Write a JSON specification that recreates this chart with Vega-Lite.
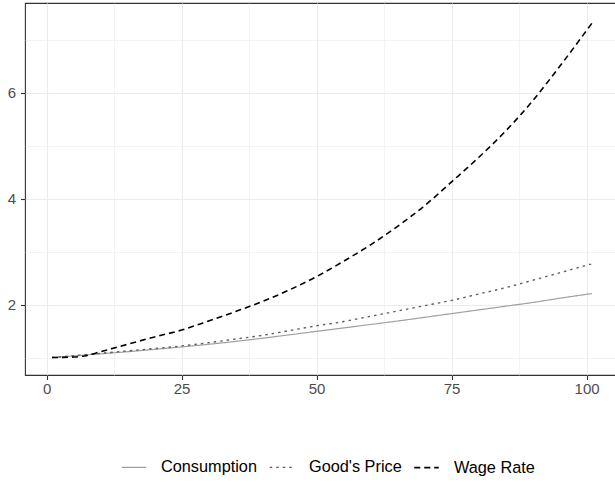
{
  "$schema": "https://vega.github.io/schema/vega-lite/v6.json",
  "width": 594,
  "height": 372,
  "autosize": {"type": "none"},
  "padding": {"left": 25, "top": 3, "right": 0, "bottom": 107},
  "background": "white",
  "config": {
    "font": "Liberation Sans",
    "view": {"stroke": "#333333", "strokeWidth": 1.1}
  },
  "datasets": {
    "main": [
      {"t": 1, "series": "Consumption", "v": 1.0},
      {"t": 5, "series": "Consumption", "v": 1.03},
      {"t": 10, "series": "Consumption", "v": 1.07},
      {"t": 15, "series": "Consumption", "v": 1.11},
      {"t": 20, "series": "Consumption", "v": 1.155},
      {"t": 25, "series": "Consumption", "v": 1.2},
      {"t": 30, "series": "Consumption", "v": 1.25},
      {"t": 35, "series": "Consumption", "v": 1.305},
      {"t": 40, "series": "Consumption", "v": 1.365},
      {"t": 45, "series": "Consumption", "v": 1.43},
      {"t": 50, "series": "Consumption", "v": 1.495},
      {"t": 55, "series": "Consumption", "v": 1.56},
      {"t": 60, "series": "Consumption", "v": 1.625},
      {"t": 65, "series": "Consumption", "v": 1.69},
      {"t": 70, "series": "Consumption", "v": 1.76},
      {"t": 75, "series": "Consumption", "v": 1.83},
      {"t": 80, "series": "Consumption", "v": 1.9},
      {"t": 85, "series": "Consumption", "v": 1.97},
      {"t": 90, "series": "Consumption", "v": 2.04},
      {"t": 95, "series": "Consumption", "v": 2.12},
      {"t": 101, "series": "Consumption", "v": 2.21},
      {"t": 1, "series": "Good's Price", "v": 1.0},
      {"t": 5, "series": "Good's Price", "v": 1.035},
      {"t": 10, "series": "Good's Price", "v": 1.08},
      {"t": 15, "series": "Good's Price", "v": 1.125},
      {"t": 20, "series": "Good's Price", "v": 1.17},
      {"t": 25, "series": "Good's Price", "v": 1.22},
      {"t": 30, "series": "Good's Price", "v": 1.28},
      {"t": 35, "series": "Good's Price", "v": 1.35},
      {"t": 40, "series": "Good's Price", "v": 1.42},
      {"t": 45, "series": "Good's Price", "v": 1.51},
      {"t": 50, "series": "Good's Price", "v": 1.6},
      {"t": 55, "series": "Good's Price", "v": 1.68},
      {"t": 60, "series": "Good's Price", "v": 1.78},
      {"t": 65, "series": "Good's Price", "v": 1.88},
      {"t": 70, "series": "Good's Price", "v": 1.98},
      {"t": 75, "series": "Good's Price", "v": 2.08},
      {"t": 80, "series": "Good's Price", "v": 2.2},
      {"t": 85, "series": "Good's Price", "v": 2.32},
      {"t": 90, "series": "Good's Price", "v": 2.46},
      {"t": 95, "series": "Good's Price", "v": 2.6},
      {"t": 101, "series": "Good's Price", "v": 2.775},
      {"t": 1, "series": "Wage Rate", "v": 1.0},
      {"t": 5, "series": "Wage Rate", "v": 1.01},
      {"t": 7, "series": "Wage Rate", "v": 1.03},
      {"t": 10, "series": "Wage Rate", "v": 1.11},
      {"t": 15, "series": "Wage Rate", "v": 1.25},
      {"t": 20, "series": "Wage Rate", "v": 1.39},
      {"t": 25, "series": "Wage Rate", "v": 1.52},
      {"t": 30, "series": "Wage Rate", "v": 1.69},
      {"t": 35, "series": "Wage Rate", "v": 1.87},
      {"t": 40, "series": "Wage Rate", "v": 2.06},
      {"t": 45, "series": "Wage Rate", "v": 2.28},
      {"t": 50, "series": "Wage Rate", "v": 2.53},
      {"t": 55, "series": "Wage Rate", "v": 2.82},
      {"t": 60, "series": "Wage Rate", "v": 3.13},
      {"t": 65, "series": "Wage Rate", "v": 3.48},
      {"t": 70, "series": "Wage Rate", "v": 3.87},
      {"t": 75, "series": "Wage Rate", "v": 4.32},
      {"t": 80, "series": "Wage Rate", "v": 4.78},
      {"t": 85, "series": "Wage Rate", "v": 5.28},
      {"t": 90, "series": "Wage Rate", "v": 5.85},
      {"t": 95, "series": "Wage Rate", "v": 6.5},
      {"t": 101, "series": "Wage Rate", "v": 7.32}
    ]
  },
  "data": {"name": "main"},
  "layer": [
    {
      "mark": {"type": "line", "opacity": 0},
      "encoding": {
        "x": {
          "field": "t", "type": "quantitative",
          "scale": {"domain": [-4, 106], "nice": false, "zero": false},
          "axis": {"orient": "top", "values": [12.5, 37.5, 62.5, 87.5], "grid": true, "gridColor": "#EBEBEB", "gridWidth": 0.6, "labels": false, "ticks": false, "domain": false, "title": null}
        },
        "y": {
          "field": "v", "type": "quantitative",
          "scale": {"domain": [0.67, 7.7], "nice": false, "zero": false},
          "axis": {"orient": "right", "values": [1, 3, 5, 7], "grid": true, "gridColor": "#EBEBEB", "gridWidth": 0.6, "labels": false, "ticks": false, "domain": false, "title": null}
        },
        "detail": {"field": "series"}
      }
    },
    {
      "mark": {"type": "line", "interpolate": "monotone"},
      "encoding": {
        "x": {
          "field": "t", "type": "quantitative",
          "scale": {"domain": [-4, 106], "nice": false, "zero": false},
          "axis": {"orient": "bottom", "values": [0, 25, 50, 75, 100], "grid": true, "gridColor": "#EBEBEB", "gridWidth": 1.1, "ticks": true, "tickColor": "#333333", "tickWidth": 1.1, "tickSize": 4.5, "labelColor": "#4D4D4D", "labelFontSize": 15, "labelPadding": 2, "domain": false, "title": null}
        },
        "y": {
          "field": "v", "type": "quantitative",
          "scale": {"domain": [0.67, 7.7], "nice": false, "zero": false},
          "axis": {"orient": "left", "values": [2, 4, 6], "grid": true, "gridColor": "#EBEBEB", "gridWidth": 1.1, "ticks": true, "tickColor": "#333333", "tickWidth": 1.1, "tickSize": 4.5, "labelColor": "#4D4D4D", "labelFontSize": 15, "labelPadding": 5, "domain": false, "title": null}
        },
        "color": {
          "field": "series", "type": "nominal",
          "scale": {"domain": ["Consumption", "Good's Price", "Wage Rate"], "range": ["#A0A0A0", "#5E5E5E", "#000000"]},
          "legend": {"orient": "none", "legendX": 96, "legendY": 451, "direction": "horizontal", "title": null, "symbolType": "stroke", "symbolSize": 600, "labelFontSize": 16.3, "labelColor": "#000000", "labelOffset": 14, "columnPadding": 9}
        },
        "strokeDash": {
          "field": "series", "type": "nominal",
          "scale": {"domain": ["Consumption", "Good's Price", "Wage Rate"], "range": [[1, 0], [2.5, 4], [6, 4]]}
        },
        "strokeWidth": {
          "field": "series", "type": "nominal",
          "scale": {"domain": ["Consumption", "Good's Price", "Wage Rate"], "range": [1.2, 1.6, 1.9]}
        }
      }
    }
  ],
  "resolve": {"axis": {"x": "independent", "y": "independent"}}
}
